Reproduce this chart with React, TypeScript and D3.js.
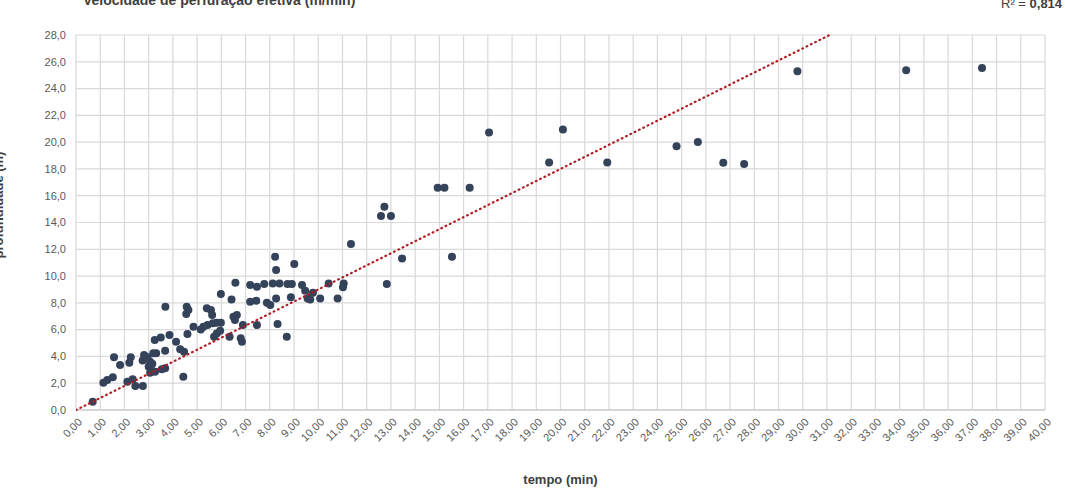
import React, { useRef, useEffect } from "react";
import * as d3 from "d3";

// tempo (min) de cada furo
const tempo = [
  0.69, 1.13, 1.29, 1.52, 1.57, 1.82, 2.12, 2.34, 2.26, 2.2, 2.45, 2.76, 2.81, 2.95, 3.06, 3.19, 3.31, 3.0, 3.14,
  2.89, 2.75, 3.15, 3.06, 3.26, 3.54, 3.68, 3.25, 3.5, 3.69, 3.86, 3.68, 4.13, 4.3, 4.46, 4.43, 4.57, 4.64, 4.55,
  4.6, 4.85, 5.15, 5.26, 5.43, 5.65, 5.81, 5.4, 5.57, 5.62, 5.7, 5.81, 5.95, 5.98, 5.98, 6.34, 6.42, 6.5, 6.64,
  6.56, 6.58, 6.8, 6.85, 6.89, 7.19, 7.47, 7.77, 7.19, 7.44, 7.88, 7.47, 8.02, 8.26, 8.12, 8.4, 8.22, 8.26, 8.32,
  8.7, 8.73, 8.91, 8.87, 9.01, 9.33, 9.46, 9.56, 9.78, 9.67, 10.08, 10.43, 10.8, 11.05, 11.02, 11.35, 12.59,
  12.73, 13.0, 12.83, 13.46, 14.93, 15.21, 16.25, 15.52, 17.05, 19.53, 20.1, 21.93, 24.79, 25.67, 26.72, 27.58,
  29.78, 34.27, 37.4,
];

// profundidade (m)
const profundidade = [
  0.62, 2.04, 2.24, 2.44, 3.93, 3.36, 2.11, 2.29, 3.93, 3.53, 1.79, 1.79, 4.1, 3.93, 3.6, 4.23, 4.23, 3.23, 2.93,
  3.93, 3.7, 3.45, 2.78, 2.86, 3.04, 3.11, 5.22, 5.42, 7.71, 5.6, 4.43, 5.1, 4.53, 4.35, 2.49, 7.71, 7.46, 7.16,
  5.67, 6.22, 6.02, 6.22, 6.34, 6.47, 6.51, 7.59, 7.46, 7.09, 5.47, 5.72, 5.92, 6.51, 8.66, 5.47, 8.26, 6.96, 7.09,
  6.72, 9.5, 5.35, 5.1, 6.34, 9.33, 9.2, 9.4, 8.08, 8.16, 8.01, 6.34, 7.84, 8.33, 9.45, 9.45, 11.44, 10.45, 6.42,
  5.47, 9.4, 9.4, 8.41, 10.9, 9.33, 8.9, 8.33, 8.75, 8.26, 8.33, 9.45, 8.33, 9.45, 9.16, 12.39, 14.48, 15.17, 14.48,
  9.4, 11.32, 16.59, 16.59, 16.59, 11.44, 20.72, 18.48, 20.95, 18.48, 19.7, 20.02, 18.46, 18.36, 25.3, 25.37,
  25.54,
];

const xTicks = [
  0, 1, 2, 3, 4, 5, 6, 7, 8, 9, 10, 11, 12, 13, 14, 15, 16, 17, 18, 19, 20, 21, 22, 23, 24, 25, 26, 27, 28, 29, 30,
  31, 32, 33, 34, 35, 36, 37, 38, 39, 40,
];
const yTicks = [0, 2, 4, 6, 8, 10, 12, 14, 16, 18, 20, 22, 24, 26, 28];

// linha de tendência linear (Excel)
const trendSlope = 0.9;
const trendIntercept = 0;
const r2Label = "0,814";

const FONT = "'Liberation Sans', Arial, sans-serif";

const App = () => {
  const svgRef = useRef<SVGSVGElement>(null);

  const W = 1065,
    H = 492;
  const margin = { top: 35, right: 20, bottom: 82, left: 76 };
  const width = W - margin.left - margin.right;
  const height = H - margin.top - margin.bottom;

  useEffect(() => {
    document.body.style.margin = "0";
    const svg = d3.select(svgRef.current);
    svg.selectAll("*").remove();

    const g = svg.append("g").attr("transform", `translate(${margin.left},${margin.top})`);

    const x = d3.scaleLinear().domain([0, 40]).range([0, width]);
    const y = d3.scaleLinear().domain([0, 28]).range([height, 0]);
    const fmtY = (d: number) => d3.format(".1f")(d).replace(".", ",");
    const fmtX = (d: number) => d3.format(".2f")(d).replace(".", ",");

    // grade
    g.append("g")
      .selectAll("line")
      .data(yTicks)
      .enter()
      .append("line")
      .attr("x1", 0)
      .attr("x2", width)
      .attr("y1", d => y(d))
      .attr("y2", d => y(d))
      .attr("stroke", "#d9d9d9")
      .attr("stroke-width", 1.2);

    g.append("g")
      .selectAll("line")
      .data(xTicks)
      .enter()
      .append("line")
      .attr("x1", d => x(d))
      .attr("x2", d => x(d))
      .attr("y1", 0)
      .attr("y2", height)
      .attr("stroke", "#d9d9d9")
      .attr("stroke-width", 1.2);

    g.append("line")
      .attr("x1", 0)
      .attr("x2", width)
      .attr("y1", height)
      .attr("y2", height)
      .attr("stroke", "#bfbfbf")
      .attr("stroke-width", 1.2);

    // rótulos do eixo y
    g.append("g")
      .selectAll("text")
      .data(yTicks)
      .enter()
      .append("text")
      .attr("x", -10)
      .attr("y", d => y(d))
      .attr("dy", "0.35em")
      .attr("text-anchor", "end")
      .style("font-family", FONT)
      .style("font-size", "11px")
      .attr("fill", "#595959")
      .text(d => fmtY(d));

    // rótulos do eixo x
    g.append("g")
      .selectAll("text")
      .data(xTicks)
      .enter()
      .append("text")
      .attr("transform", d => `translate(${x(d) + 4},${height + 10}) rotate(-45)`)
      .attr("dy", "0.35em")
      .attr("text-anchor", "end")
      .style("font-family", FONT)
      .style("font-size", "11px")
      .attr("fill", "#595959")
      .text(d => fmtX(d));

    // pontos
    const pts = tempo.map((t, i) => ({ t, p: profundidade[i] }));
    g.append("g")
      .selectAll("circle")
      .data(pts)
      .enter()
      .append("circle")
      .attr("cx", d => x(d.t))
      .attr("cy", d => y(d.p))
      .attr("r", 4)
      .attr("fill", "#34425a");

    // tendência
    const clipId = "plot-clip";
    svg
      .append("defs")
      .append("clipPath")
      .attr("id", clipId)
      .append("rect")
      .attr("width", width)
      .attr("height", height + 2)
      .attr("y", -1);
    const xEnd = (28 - trendIntercept) / trendSlope;
    g.append("line")
      .attr("clip-path", `url(#${clipId})`)
      .attr("x1", x(0))
      .attr("y1", y(trendIntercept))
      .attr("x2", x(xEnd))
      .attr("y2", y(trendSlope * xEnd + trendIntercept))
      .attr("stroke", "#b01c22")
      .attr("stroke-width", 2.2)
      .attr("stroke-dasharray", "0.8,4")
      .attr("stroke-linecap", "round");

    // títulos
    svg.append("text")
      .attr("x", 83)
      .attr("y", 5)
      .style("font-family", FONT)
      .style("font-size", "14px")
      .style("font-weight", "bold")
      .attr("fill", "#404040")
      .text("Velocidade de perfuração efetiva (m/min)");

    const r2 = svg.append("text")
      .attr("x", 1001)
      .attr("y", 8)
      .style("font-family", FONT)
      .style("font-size", "13px")
      .attr("fill", "#404040");
    r2.append("tspan").text("R² = ");
    r2.append("tspan").style("font-weight", "bold").text(r2Label);

    svg.append("text")
      .attr("x", margin.left + width / 2)
      .attr("y", 484)
      .attr("text-anchor", "middle")
      .style("font-family", FONT)
      .style("font-size", "13px")
      .style("font-weight", "bold")
      .attr("fill", "#404040")
      .text("tempo (min)");

    svg.append("text")
      .attr("transform", "rotate(-90)")
      .attr("x", -205)
      .attr("y", 3)
      .attr("text-anchor", "middle")
      .style("font-family", FONT)
      .style("font-size", "13px")
      .style("font-weight", "bold")
      .attr("fill", "#404040")
      .text("profundidade (m)");
  }, []);

  return <svg ref={svgRef} width={W} height={H} style={{ display: "block", background: "#fff" }}></svg>;
};

export default App;
